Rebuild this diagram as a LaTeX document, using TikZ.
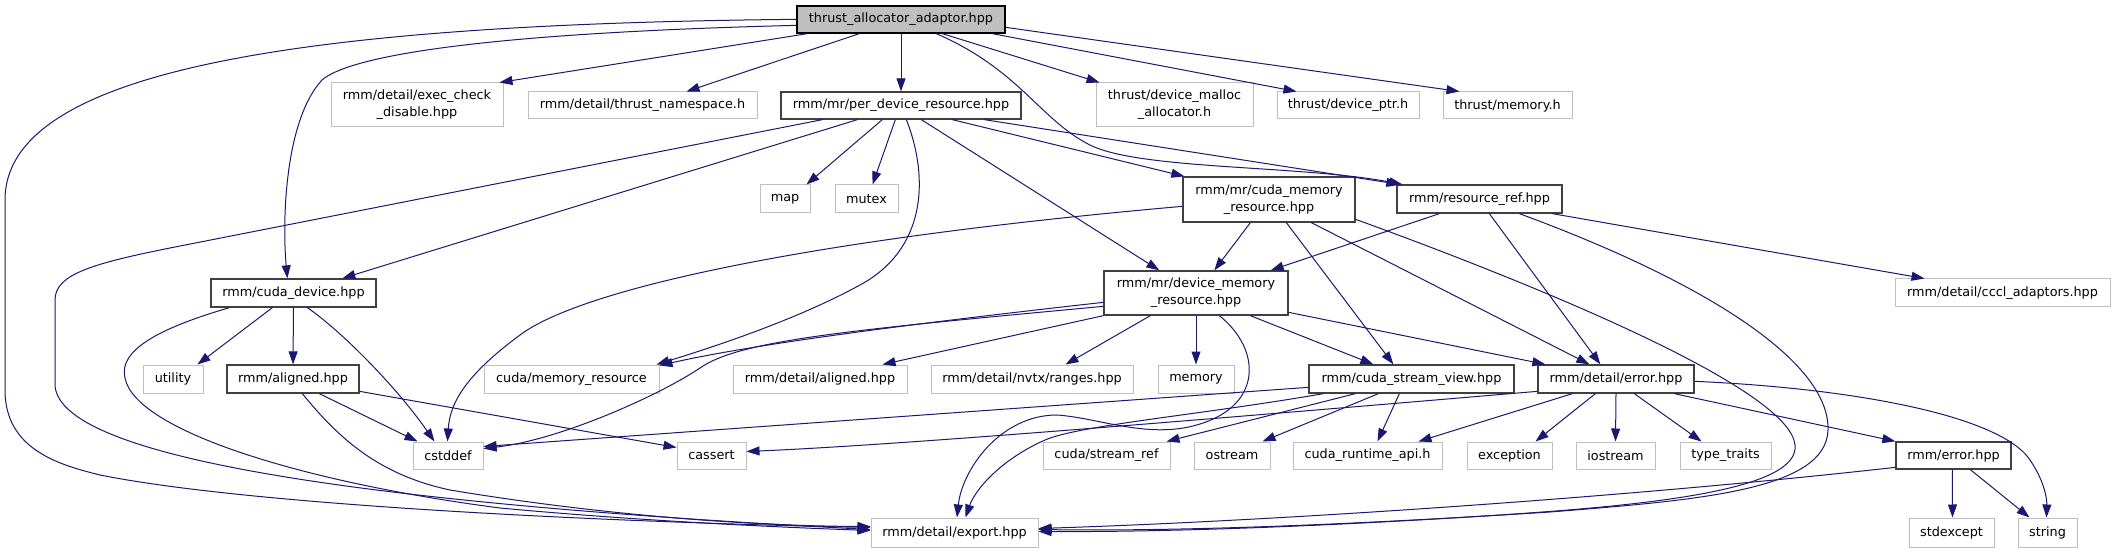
\documentclass[tikz,border=0pt]{standalone}
\usepackage{fontspec}
\setmainfont{DejaVu Sans}
\usetikzlibrary{arrows.meta}
\definecolor{edgec}{HTML}{191970}
\definecolor{extc}{HTML}{BFBFBF}
\definecolor{intc}{HTML}{404040}
\definecolor{rootc}{HTML}{BFBFBF}
\begin{document}
\begin{tikzpicture}[x=1pt,y=-1pt,
  box/.style={rectangle, inner sep=0pt, font=\fontsize{12.8}{17}\selectfont, align=center, text=black},
  ext/.style={box, draw=extc, line width=1pt, fill=white},
  int/.style={box, draw=intc, line width=1.3pt, fill=white},
  h1/.style={minimum height=27pt},
  h2/.style={minimum height=44pt},
  dep/.style={draw=edgec, line width=1pt, -{Triangle[length=13pt,width=9pt]}}]
\fill[white] (0,0) rectangle (2115,553);
\useasboundingbox (0,0) rectangle (2115,553);
% row A
\node[int, h1, fill=rootc, draw=black, minimum width=208pt] (root) at (901,19.5) {thrust\_allocator\_adaptor.hpp};
% row B
\node[ext, h2, minimum width=172pt] (exec) at (417,105) {rmm/detail/exec\_check\\\_disable.hpp};
\node[ext, h1, minimum width=229pt] (ns) at (642.5,105.5) {rmm/detail/thrust\_namespace.h};
\node[int, h1, minimum width=240pt] (pdr) at (901,105.5) {rmm/mr/per\_device\_resource.hpp};
\node[ext, h2, minimum width=157pt] (malloc) at (1174.5,105) {thrust/device\_malloc\\\_allocator.h};
\node[ext, h1, minimum width=142pt] (dptr) at (1348,105.5) {thrust/device\_ptr.h};
\node[ext, h1, minimum width=129pt] (tmem) at (1507.5,105.5) {thrust/memory.h};
% row C
\node[ext, minimum height=28pt, minimum width=50pt] (map) at (785,199) {map};
\node[ext, minimum height=28pt, minimum width=63pt] (mutex) at (866.5,199) {mutex};
\node[int, minimum height=45pt, minimum width=172pt] (cmr) at (1269,199.5) {rmm/mr/cuda\_memory\\\_resource.hpp};
\node[int, minimum height=28pt, minimum width=165pt] (rref) at (1479.5,199) {rmm/resource\_ref.hpp};
% row D
\node[int, minimum height=28pt, minimum width=165pt] (cdev) at (293.5,293) {rmm/cuda\_device.hpp};
\node[int, h2, minimum width=184pt] (dmr) at (1196,293) {rmm/mr/device\_memory\\\_resource.hpp};
\node[ext, minimum height=28pt, minimum width=215pt] (cccl) at (2002.5,293) {rmm/detail/cccl\_adaptors.hpp};
% row E
\node[ext, minimum height=28pt, minimum width=60pt] (utility) at (173,379) {utility};
\node[int, minimum height=28pt, minimum width=132pt] (aligned) at (293,379) {rmm/aligned.hpp};
\node[ext, minimum height=28pt, minimum width=175pt] (cudamr) at (571.5,379) {cuda/memory\_resource};
\node[ext, minimum height=28pt, minimum width=174pt] (daligned) at (820,379) {rmm/detail/aligned.hpp};
\node[ext, minimum height=28pt, minimum width=202pt] (nvtx) at (1032,379) {rmm/detail/nvtx/ranges.hpp};
\node[ext, minimum height=28pt, minimum width=76pt] (memory) at (1196,379) {memory};
\node[int, minimum height=28pt, minimum width=205pt] (csv) at (1411.5,379) {rmm/cuda\_stream\_view.hpp};
\node[int, minimum height=28pt, minimum width=156pt] (derr) at (1616,379) {rmm/detail/error.hpp};
% row F
\node[ext, h1, minimum width=70pt] (cstddef) at (448,455.5) {cstddef};
\node[ext, h1, minimum width=69pt] (cassert) at (711.5,455.5) {cassert};
\node[ext, h1, minimum width=127pt] (sref) at (1106.5,455.5) {cuda/stream\_ref};
\node[ext, h1, minimum width=76pt] (ostream) at (1232,455.5) {ostream};
\node[ext, h1, minimum width=149pt] (rtapi) at (1367.5,455.5) {cuda\_runtime\_api.h};
\node[ext, h1, minimum width=85pt] (exception) at (1509.5,455.5) {exception};
\node[ext, h1, minimum width=79pt] (iostream) at (1615.5,455.5) {iostream};
\node[ext, h1, minimum width=91pt] (ttraits) at (1725.5,455.5) {type\_traits};
\node[int, h1, minimum width=115pt] (rerr) at (1953.5,455.5) {rmm/error.hpp};
% row G
\node[ext, minimum height=29pt, minimum width=167pt] (export) at (954.5,532.5) {rmm/detail/export.hpp};
\node[ext, minimum height=29pt, minimum width=85pt] (stdexcept) at (1951.5,532.5) {stdexcept};
\node[ext, minimum height=29pt, minimum width=59pt] (string) at (2047.5,532.5) {string};
% root edges
\draw[dep] ([yshift=-14pt]root.north west) .. controls (300,24) and (5,70) .. (5,200) -- (5,390) .. controls (5,450) and (60,465) .. (100,475) .. controls (250,505) and (600,522) .. ([yshift=-10pt]export.north west);
\draw[dep] ([yshift=-20pt]root.north west) .. controls (450,34) and (345,60) .. (322,80) .. controls (285,120) and (282,220) .. ([xshift=77pt]cdev.north west);
\draw[dep] ([xshift=11pt]root.south west) -- ([xshift=-4pt]exec.north east);
\draw[dep] ([xshift=63pt]root.south west) -- ([xshift=159pt]ns.north west);
\draw[dep] (root.south) -- (pdr.north);
\draw[dep] ([xshift=146pt]root.south west) -- ([xshift=4pt]malloc.north west);
\draw[dep] ([xshift=196pt]root.south west) -- ([xshift=20pt]dptr.north west);
\draw[dep] ([yshift=-22pt]root.north east) -- ([xshift=17pt]tmem.north west);
\draw[dep] ([xshift=140pt]root.south west) .. controls (1020,70) and (1040,120) .. (1090,145) .. controls (1140,170) and (1300,165) .. ([xshift=6pt]rref.north west);
% per_device_resource edges
\draw[dep] ([xshift=42pt]pdr.south west) -- (170,248) .. controls (90,264) and (55,275) .. (55,300) -- (55,385) .. controls (58,450) and (300,500) .. ([yshift=-12pt]export.north west);
\draw[dep] ([xshift=77pt]pdr.south west) -- ([xshift=132pt]cdev.north west);
\draw[dep] ([xshift=102pt]pdr.south west) -- ([xshift=47pt]map.north west);
\draw[dep] ([xshift=115pt]pdr.south west) -- ([xshift=38pt]mutex.north west);
\draw[dep] ([xshift=126pt]pdr.south west) .. controls (930,180) and (925,250) .. (860,285) .. controls (800,318) and (720,345) .. ([xshift=-3pt]cudamr.north east);
\draw[dep] ([xshift=141pt]pdr.south west) -- ([xshift=56pt]dmr.north west);
\draw[dep] ([xshift=172pt]pdr.south west) -- ([xshift=2pt]cmr.north west);
\draw[dep] ([xshift=204pt]pdr.south west) -- ([xshift=3pt]rref.north west);
% cuda_memory_resource edges
\draw[dep] ([yshift=-30pt]cmr.north west) .. controls (800,240) and (580,290) .. (520,335) .. controls (470,372) and (450,400) .. ([xshift=35pt]cstddef.north west);
\draw[dep] ([xshift=68pt]cmr.south west) -- ([xshift=111pt]dmr.north west);
\draw[dep] ([xshift=104pt]cmr.south west) -- ([xshift=85pt]csv.north west);
\draw[dep] ([xshift=129pt]cmr.south west) -- ([xshift=52pt]derr.north west);
\draw[dep] ([yshift=-43pt]cmr.north east) .. controls (1550,290) and (1790,390) .. (1795,445) .. controls (1800,490) and (1650,505) .. (1500,515) .. controls (1300,528) and (1150,532) .. ([yshift=-14pt]export.north east);
% resource_ref edges
\draw[dep] ([xshift=43pt]rref.south west) -- ([xshift=-18pt]dmr.north east);
\draw[dep] ([xshift=93pt]rref.south west) -- ([xshift=63pt]derr.north west);
\draw[dep] ([xshift=156pt]rref.south west) -- ([xshift=30pt]cccl.north west);
\draw[dep] ([xshift=123pt]rref.south west) .. controls (1700,280) and (1830,360) .. (1828,430) .. controls (1826,490) and (1700,500) .. (1550,512) .. controls (1300,528) and (1150,531) .. ([yshift=-12pt]export.north east);
% cuda_device edges
\draw[dep] ([xshift=19pt]cdev.south west) .. controls (160,328) and (118,350) .. (125,378) .. controls (135,430) and (300,482) .. (500,508) .. controls (650,522) and (800,528) .. ([yshift=-13pt]export.north west);
\draw[dep] ([xshift=62pt]cdev.south west) -- ([xshift=-6pt]utility.north east);
\draw[dep] (cdev.south) -- (aligned.north);
\draw[dep] ([xshift=97pt]cdev.south west) .. controls (340,330) and (395,385) .. ([xshift=22pt]cstddef.north west);
% aligned edges
\draw[dep] ([xshift=93pt]aligned.south west) -- ([xshift=5pt]cstddef.north west);
\draw[dep] ([yshift=-27pt]aligned.north east) -- ([yshift=-6pt]cassert.north west);
\draw[dep] ([xshift=76pt]aligned.south west) .. controls (340,440) and (380,475) .. (450,490) .. controls (600,515) and (750,526) .. ([yshift=-9pt]export.north west);
% device_memory_resource edges
\draw[dep] ([yshift=-32pt]dmr.north west) .. controls (900,325) and (750,345) .. ([yshift=-1pt]cudamr.north east);
\draw[dep] ([yshift=-36pt]dmr.north west) .. controls (850,330) and (740,340) .. (700,368) .. controls (660,395) and (560,440) .. ([yshift=-7pt]cstddef.north east);
\draw[dep] (dmr.south west) -- ([xshift=150pt]daligned.north west);
\draw[dep] ([xshift=47pt]dmr.south west) -- ([xshift=135pt]nvtx.north west);
\draw[dep] (dmr.south) -- (memory.north);
\draw[dep] ([xshift=116pt]dmr.south west) .. controls (1262,350) and (1262,405) .. (1200,424) .. controls (1150,440) and (1100,418) .. (1057,415) .. controls (1000,415) and (962,470) .. ([xshift=2.5pt]export.north);
\draw[dep] ([xshift=147pt]dmr.south west) -- ([xshift=65pt]csv.north west);
\draw[dep] ([yshift=-42pt]dmr.north east) -- ([xshift=8pt]derr.north west);
% cuda_stream_view edges
\draw[dep] ([yshift=-23pt]csv.north west) -- ([yshift=-5pt]cstddef.north east);
\draw[dep] ([xshift=15pt]csv.south west) .. controls (1200,415) and (1080,425) .. (1045,440) .. controls (1000,460) and (975,490) .. ([xshift=11pt]export.north);
\draw[dep] ([xshift=47pt]csv.south west) -- ([xshift=-4pt]sref.north east);
\draw[dep] ([xshift=70pt]csv.south west) -- ([xshift=-8pt]ostream.north east);
\draw[dep] ([xshift=91pt]csv.south west) -- ([xshift=85pt]rtapi.north west);
% detail/error edges
\draw[dep] ([yshift=-27pt]derr.north west) .. controls (1200,420) and (900,445) .. ([yshift=-10pt]cassert.north east);
\draw[dep] ([xshift=35pt]derr.south west) -- ([xshift=-24pt]rtapi.north east);
\draw[dep] ([xshift=58pt]derr.south west) -- ([xshift=-17pt]exception.north east);
\draw[dep] (derr.south) -- (iostream.north);
\draw[dep] ([xshift=97pt]derr.south west) -- ([xshift=22pt]ttraits.north west);
\draw[dep] ([xshift=137pt]derr.south west) -- (rerr.north west);
\draw[dep] ([yshift=-17pt]derr.north east) .. controls (1850,388) and (2000,415) .. (2030,460) .. controls (2045,482) and (2047,500) .. ([xshift=29pt]string.north west);
% rmm/error edges
\draw[dep] ([yshift=-26pt]rerr.north west) .. controls (1650,495) and (1300,520) .. ([yshift=-11pt]export.north east);
\draw[dep] ([xshift=57pt]rerr.south west) -- ([xshift=44pt]stdexcept.north west);
\draw[dep] ([xshift=75pt]rerr.south west) -- ([xshift=12pt]string.north west);
\end{tikzpicture}
\end{document}
